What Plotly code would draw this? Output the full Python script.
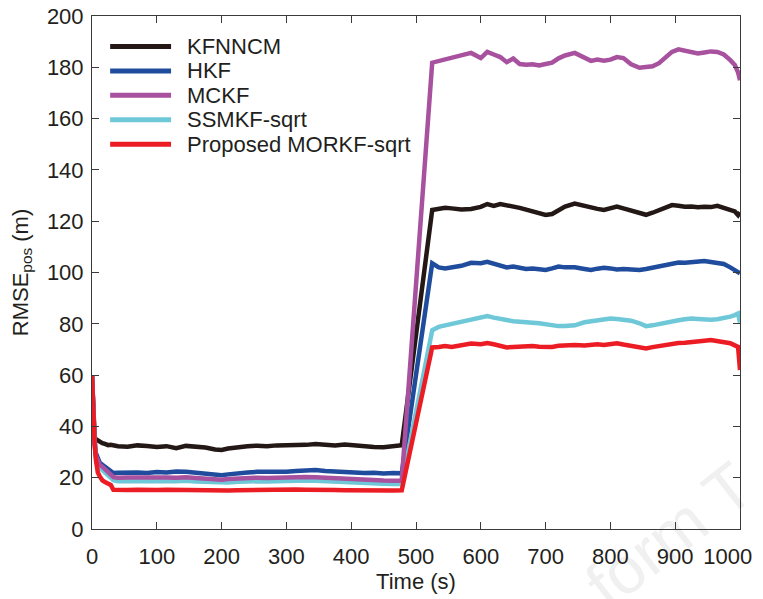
import plotly.graph_objects as go

# Time stamps (s) shared by every filter's RMSE curve
time_s = [0, 2, 4, 6, 9, 12, 16, 20, 25, 29, 33, 40, 55, 70, 85, 100, 115, 130, 145, 160,
          175, 190, 200, 210, 225, 240, 255, 270, 285, 300, 315, 330, 345, 360, 375, 390,
          405, 420, 435, 450, 465, 478,
          525, 535, 545, 555, 570, 585, 600, 610, 620, 630, 640, 650, 660, 670, 680, 690,
          700, 710, 720, 730, 745, 760, 770, 780, 790, 800, 810, 820, 832, 845, 855, 865,
          875, 885, 895, 905, 915, 925, 935, 945, 955, 965, 975, 985, 992, 997, 1000]

rmse_kfnncm = [60, 42, 36, 35, 34.5, 34, 33.5, 33.2, 32.7, 32.8, 32.5, 32.3, 32.1, 32.6, 32.4,
               32.0, 32.3, 31.5, 32.4, 32.2, 31.8, 31.0, 30.8, 31.4, 32.0, 32.3, 32.5, 32.3,
               32.6, 32.7, 32.4, 32.8, 33.1, 32.9, 32.6, 32.9, 32.5, 32.3, 32.0, 31.9, 32.2, 32.7,
               124.4, 124.8, 125.2, 125.0, 124.6, 124.8, 125.6, 126.7, 126.0, 126.7, 126.3,
               125.8, 125.2, 124.5, 123.7, 122.8, 122.4, 122.8, 124.2, 125.7, 126.9, 125.9,
               125.2, 124.8, 124.4, 125.0, 125.7, 125.0, 124.1, 123.0, 122.5, 123.3, 124.3,
               125.3, 126.3, 126.0, 125.6, 125.7, 125.4, 125.6, 125.5, 126.0, 125.3, 124.4,
               123.8, 122.4, 123.5]

rmse_hkf = [60, 45, 35, 29.6, 27, 25.8, 25, 24.3, 23.3, 22.5, 21.8, 21.9, 22.1, 22.0, 21.8,
            22.2, 22.0, 22.4, 22.3, 21.9, 21.6, 21.2, 21.0, 21.3, 21.8, 22.0, 22.3, 22.2,
            22.5, 22.3, 22.6, 22.8, 23.0, 22.6, 22.3, 22.1, 21.9, 21.8, 21.9, 21.6, 21.8, 21.7,
            103.6, 102.0, 101.6, 101.9, 102.6, 103.8, 103.6, 104.2, 103.5, 102.6, 102.0,
            102.3, 101.9, 101.4, 101.6, 101.2, 101.0, 101.6, 102.3, 102.0, 102.0, 101.4,
            101.0, 101.5, 101.8, 101.6, 101.2, 101.4, 101.2, 101.0, 101.4, 101.9, 102.3,
            102.9, 103.6, 103.9, 103.8, 104.0, 104.3, 104.5, 104.1, 103.8, 103.3, 102.0,
            101.0, 100.2, 99.7]

rmse_mckf = [60, 44, 33, 28.5, 26.5, 25, 24.3, 23.5, 22.2, 21.2, 20.2, 20.0, 20.1, 20.2, 20.0,
             20.3, 20.1, 20.0, 20.2, 19.9, 19.7, 19.3, 19.2, 19.5, 19.8, 20.0, 20.0, 19.9,
             20.1, 20.0, 20.2, 20.3, 20.2, 20.0, 19.7, 19.5, 19.1, 19.2, 19.0, 18.9, 18.8, 18.8,
             181.8, 182.4, 183.0, 183.6, 184.6, 185.6, 183.6, 186.0, 185.0, 184.0, 182.0,
             183.4, 181.3, 181.0, 181.2, 180.7, 181.3, 181.8, 183.5, 184.6, 185.6, 184.0,
             182.5, 183.0, 182.6, 183.0, 184.0, 183.6, 181.2, 179.8, 179.9, 180.4, 181.6,
             183.8, 186.0, 187.0, 186.6, 186.0, 185.4, 185.8, 186.2, 186.0, 185.0, 182.8,
             180.9, 178.0, 175.0]

rmse_ssmkf = [60, 44, 34, 28, 25.5, 24, 23, 22, 20.8, 19.8, 19.0, 18.6, 18.7, 18.8, 18.6,
              18.8, 18.7, 18.6, 18.8, 18.5, 18.3, 18.0, 17.9, 18.1, 18.4, 18.6, 18.6, 18.5,
              18.7, 18.6, 18.8, 18.9, 18.8, 18.6, 18.3, 18.1, 17.8, 17.9, 17.7, 17.6, 17.5, 17.5,
              77.5, 78.8, 79.4, 79.9, 80.6, 81.7, 82.3, 83.0, 82.4, 81.8, 81.2, 81.0, 80.8,
              80.4, 80.4, 80.2, 79.8, 79.5, 79.1, 79.1, 79.4, 80.6, 81.0, 81.3, 81.8, 82.1,
              81.9, 81.5, 81.2, 80.2, 79.1, 79.4, 80.0, 80.4, 81.0, 81.4, 81.8, 82.1, 81.9,
              81.7, 81.6, 81.8, 82.2, 82.8, 83.4, 84.0, 80.5]

rmse_morkf = [60, 42, 33.5, 27, 22, 20.5, 19.0, 18.3, 17.8, 17.2, 15.3, 15.2, 15.2, 15.3, 15.1,
              15.2, 15.3, 15.2, 15.1, 15.0, 14.9, 14.8, 14.8, 15.0, 15.1, 15.2, 15.2, 15.3,
              15.2, 15.3, 15.4, 15.3, 15.4, 15.3, 15.2, 15.1, 15.0, 15.1, 15.0, 14.9, 15.0, 15.1,
              70.8, 71.0, 71.3, 71.0, 71.6, 72.3, 72.0, 72.5, 72.0, 71.2, 70.8, 71.0, 71.2,
              71.0, 71.3, 71.1, 71.0, 71.0, 71.4, 71.6, 71.7, 71.5, 71.8, 72.0, 71.7, 72.2,
              72.4, 71.9, 71.5, 70.8, 70.4, 70.9, 71.4, 71.7, 72.2, 72.5, 72.6, 73.0, 73.3,
              73.4, 73.7, 73.3, 73.0, 72.4, 71.6, 71.0, 62.0]

series_names = ["KFNNCM", "HKF", "MCKF", "SSMKF-sqrt", "Proposed MORKF-sqrt"]
series_values = [rmse_kfnncm, rmse_hkf, rmse_mckf, rmse_ssmkf, rmse_morkf]
series_colors = ["#231815", "#1f4c9c", "#a8519f", "#6ec8d8", "#ec1c24"]
draw_order = [0, 1, 3, 2, 4]

x_ticks = list(range(0, 1001, 100))
x_tick_text = [str(v) for v in x_ticks[:-1]] + ["1000" + "\u00a0" * 4]
y_ticks = list(range(0, 201, 20))

FONT = "Arial, 'Liberation Sans', Helvetica, sans-serif"
TEXT = "#231f20"

fig = go.Figure()
for i in draw_order:
    fig.add_trace(go.Scatter(
        x=time_s, y=series_values[i], mode="lines", name=series_names[i],
        line=dict(color=series_colors[i], width=4.5), showlegend=False,
    ))

# Legend block in the upper-left corner of the axes
row0, row_gap = 0.9405, 0.0476
for k, (name, color) in enumerate(zip(series_names, series_colors)):
    yk = row0 - k * row_gap
    fig.add_shape(type="line", xref="paper", yref="paper",
                  x0=0.028, x1=0.122, y0=yk, y1=yk,
                  line=dict(color=color, width=5))
    fig.add_annotation(xref="paper", yref="paper", x=0.143, y=yk,
                       text=name, showarrow=False, xanchor="left", yanchor="middle",
                       font=dict(family=FONT, size=22, color=TEXT))

# faint watermark behind everything in the lower-right corner
fig.add_shape(type="rect", xref="paper", yref="paper", layer="below",
              x0=0.74, x1=1.03, y0=-0.115, y1=0.11,
              line=dict(width=0), fillcolor="rgba(0,0,0,0)",
              label=dict(text="form T", textangle=-38, textposition="middle center",
                         font=dict(family=FONT, size=66, color="#f0f0f0")))

axis_common = dict(
    showline=True, linecolor="#3a3a3a", linewidth=1, mirror="ticks",
    ticks="inside", ticklen=7, tickwidth=1, tickcolor="#3a3a3a",
    showgrid=False, zeroline=False, automargin=False,
    tickfont=dict(family=FONT, size=22, color=TEXT),
)

fig.update_layout(
    width=763, height=599,
    margin=dict(l=92, r=23, t=16, b=70),
    paper_bgcolor="white", plot_bgcolor="white",
    showlegend=False,
    xaxis=dict(range=[0, 1000], tickvals=x_ticks, ticktext=x_tick_text,
               ticklabelstandoff=8, ticklabeloverflow="allow",
               title=dict(text="Time (s)", standoff=4,
                          font=dict(family=FONT, size=22, color=TEXT)),
               **axis_common),
    yaxis=dict(range=[0, 200], tickvals=y_ticks, ticklabelstandoff=3,
               title=dict(text="RMSE<sub>pos</sub> (m)", standoff=12,
                          font=dict(family=FONT, size=22, color=TEXT)),
               **axis_common),
)

fig.write_html("out.html")
